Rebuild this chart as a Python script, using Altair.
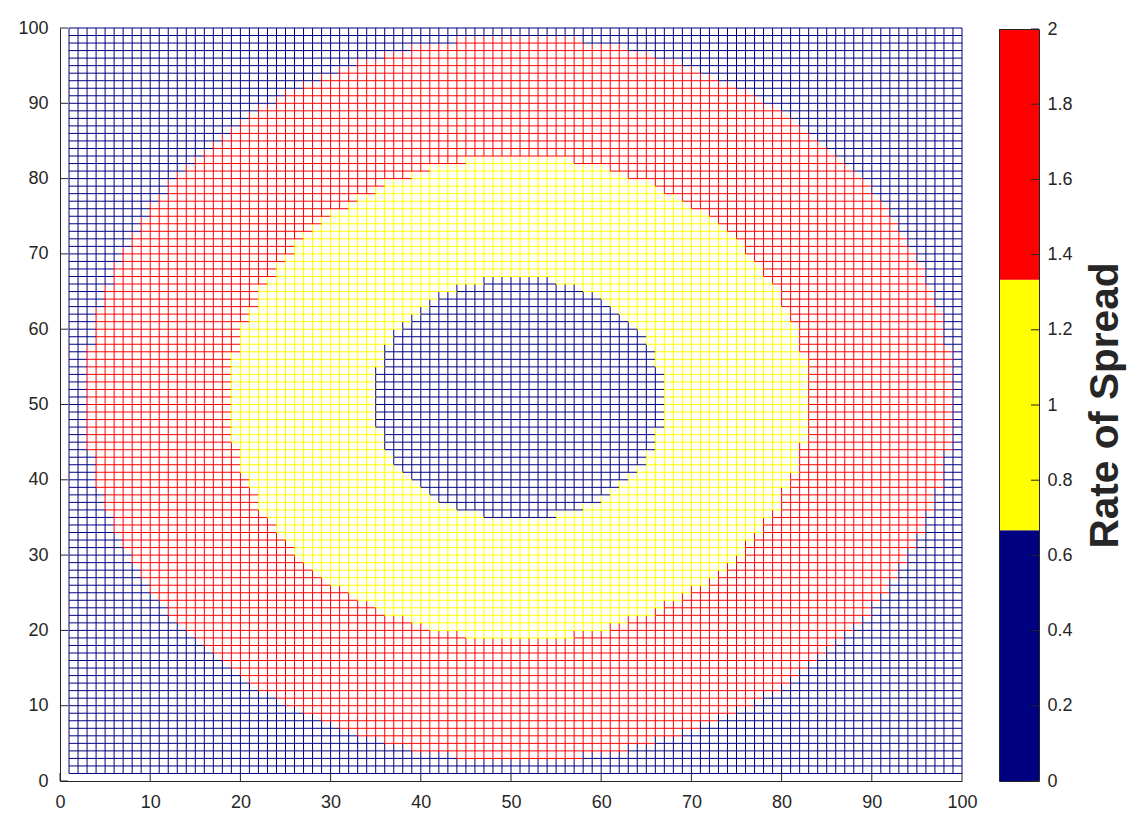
import altair as alt
import pandas as pd

alt.data_transformers.disable_max_rows()

# first grid column of each coloured disc, per grid row, lower half (rows mirror above row 50)
RED_ROWS_FROM = 3
RED_START = [44,39,36,33,31,29,27,25,24,22,21,20,19,18,17,16,15,14,13,12,12,11,10,10,9,9,8,8,
             7,7,6,6,6,5,5,5,4,4,4,4,4,3,3,3,3,3,3,3]
YELLOW_ROWS_FROM = 19
YELLOW_START = [45,41,39,36,35,33,32,30,29,28,27,26,26,25,24,24,23,22,22,22,21,21,20,20,20,20,
                19,19,19,19,19,19]
BLUE_ROWS_FROM = 35
BLUE_START = [47,44,42,41,40,39,38,37,37,36,36,36,35,35,35,35]

NAVY, YELLOW, RED = "#000080", "#ffff00", "#ff0000"
INK = "#262626"
FONT = "Liberation Sans"

TICKS = [0, 10, 20, 30, 40, 50, 60, 70, 80, 90, 100]
CB_TICKS = [0, 0.2, 0.4, 0.6, 0.8, 1, 1.2, 1.4, 1.6, 1.8, 2]
CB_LOW = [0, 0.6667, 1.3333]
CB_HIGH = [0.6667, 1.3333, 2]
CB_COLOR = [NAVY, YELLOW, RED]

W, H = 902, 753
CBW = 40

grid = {(x, y): NAVY for x in range(1, 101) for y in range(1, 101)}
for first_row, starts, colour in ((RED_ROWS_FROM, RED_START, RED),
                                  (YELLOW_ROWS_FROM, YELLOW_START, YELLOW),
                                  (BLUE_ROWS_FROM, BLUE_START, NAVY)):
    for i, s in enumerate(starts):
        row = first_row + i
        for r in (row, 101 - row):
            for x in range(s, 102 - s):
                grid[(x, r)] = colour

h_runs, v_runs = [], []
for y in range(1, 101):
    start = 1
    for x in range(2, 101):
        if x == 100 or grid[(x, y)] != grid[(start, y)]:
            h_runs.append({"y": y, "a": start, "b": x, "c": grid[(start, y)]})
            start = x
for x in range(1, 101):
    start = 1
    for y in range(2, 101):
        if y == 100 or grid[(x, y)] != grid[(x, start)]:
            v_runs.append({"x": x, "a": start, "b": y, "c": grid[(x, start)]})
            start = y

xs = alt.Scale(domain=[0, 100], nice=False, zero=False)
ys = alt.Scale(domain=[0, 100], nice=False, zero=False)
axis_common = dict(values=TICKS, ticks=False, grid=False, title=None, domainColor=INK, domainWidth=1,
                   labelColor=INK, labelFont=FONT, labelFontSize=18, labelPadding=12, labelFlush=False,
                   labelOverlap=False)

horiz = alt.Chart(pd.DataFrame(h_runs)).mark_rule(strokeWidth=1).encode(
    x=alt.X("a:Q", scale=xs, axis=alt.Axis(orient="bottom", **axis_common)),
    x2="b:Q",
    y=alt.Y("y:Q", scale=ys, axis=alt.Axis(orient="left", **axis_common)),
    color=alt.Color("c:N", scale=None),
)
vert = alt.Chart(pd.DataFrame(v_runs)).mark_rule(strokeWidth=1).encode(
    x=alt.X("x:Q", scale=xs),
    y=alt.Y("a:Q", scale=ys),
    y2="b:Q",
    color=alt.Color("c:N", scale=None),
)
tick_df = pd.DataFrame({"t": TICKS})
xt = alt.Chart(tick_df).mark_rule(color=INK, strokeWidth=1).encode(
    x=alt.X("t:Q", scale=xs), y=alt.value(H - 8), y2=alt.value(H))
yt = alt.Chart(tick_df).mark_rule(color=INK, strokeWidth=1).encode(
    y=alt.Y("t:Q", scale=ys), x=alt.value(0), x2=alt.value(8))
main = alt.layer(vert, horiz, xt, yt).properties(width=W, height=H)

cys = alt.Scale(domain=[0, 2], nice=False, zero=False, range=[H, 1])
cb_rect = alt.Chart(pd.DataFrame({"l": CB_LOW, "h": CB_HIGH, "c": CB_COLOR})).mark_rect().encode(
    x=alt.value(0), x2=alt.value(CBW),
    y=alt.Y("l:Q", scale=cys, axis=alt.Axis(
        orient="right", values=CB_TICKS, ticks=False, domain=False, grid=False, labelColor=INK, labelFont=FONT,
        labelFontSize=18, labelPadding=8, labelFlush=False, labelOverlap=False,
        labelExpr="format(datum.value, '.1~f')",
        title="Rate of Spread", titleFont=FONT, titleFontSize=40.5, titleFontWeight="bold",
        titleColor=INK, titleAngle=270, titlePadding=54)),
    y2="h:Q",
    color=alt.Color("c:N", scale=None),
)
cb_frame = alt.Chart(pd.DataFrame({"k": [0]})).mark_rect(fillOpacity=0, stroke=INK, strokeWidth=1).encode(
    x=alt.value(0.5), x2=alt.value(CBW + 0.5), y=alt.value(1.5), y2=alt.value(H + 0.5))
cb_ticks = alt.Chart(pd.DataFrame({"t": CB_TICKS})).mark_rule(color=INK, strokeWidth=1).encode(
    y=alt.Y("t:Q", scale=cys), x=alt.value(CBW - 8), x2=alt.value(CBW))
cbar = alt.layer(cb_rect, cb_frame, cb_ticks).properties(width=CBW, height=H)

chart = alt.hconcat(main, cbar, spacing=37, bounds="flush").properties(
    padding={"left": 9, "top": 11, "right": 5, "bottom": 5},
    background="white",
).configure_view(stroke=None)

chart.save("out.html", embed_options={"renderer": "svg", "actions": False})
